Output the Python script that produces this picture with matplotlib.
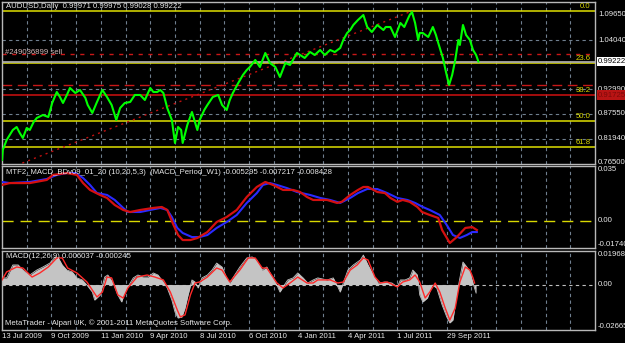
import numpy as np
import matplotlib.pyplot as plt

plt.rcParams['font.family'] = ['Liberation Sans', 'DejaVu Sans']

# ---- data (x = bar index from 13 Jul 2009) ----
price_bars = [0, 1, 6, 14, 19, 23, 27, 32, 36, 41, 45, 53, 60, 65, 71, 75, 79, 84, 88, 95,
              101, 108, 111, 117, 123, 130, 136, 142, 148, 153, 159, 166, 172, 179, 185, 192, 196, 201, 205, 209,
              214, 220, 224, 228, 232, 234, 240, 246, 253, 256, 262, 266, 273, 280, 285, 291, 295, 299, 306, 312,
              317, 321, 328, 334, 341, 347, 354, 360, 367, 373, 382, 386, 392, 399, 405, 412, 418, 425, 431, 438,
              442, 447, 451, 455, 461, 468, 473, 479, 486, 494, 497, 503, 509, 516, 521, 525, 528, 531, 535, 539,
              541, 545, 552, 558, 562, 565, 571, 575, 579, 583, 587, 591, 593, 597, 601, 606, 610, 614, 617]
price_close = [0.7717, 0.7941, 0.8165, 0.8389, 0.8456, 0.8322, 0.8210, 0.8434, 0.8389, 0.8568,
               0.8658, 0.8725, 0.8680, 0.8994, 0.9240, 0.9128, 0.8994, 0.9173, 0.9330, 0.9218,
               0.9285, 0.9106, 0.8949, 0.8770, 0.9016, 0.9285, 0.9128, 0.8949, 0.8613, 0.8882,
               0.8994, 0.9016, 0.9173, 0.9173, 0.9061, 0.9330, 0.9240, 0.9240, 0.9285, 0.9218,
               0.8882, 0.8613, 0.8098, 0.8456, 0.8389, 0.8098, 0.8501, 0.8792, 0.8389, 0.8613,
               0.8837, 0.8949, 0.9128, 0.9173, 0.8949, 0.8837, 0.9061, 0.9218, 0.9442, 0.9621,
               0.9733, 0.9800, 0.9957, 0.9800, 1.0114, 0.9890, 0.9800, 0.9576, 0.9890, 0.9845,
               1.0114, 1.0069, 1.0002, 1.0136, 1.0069, 1.0181, 1.0069, 1.0181, 1.0136, 1.0226,
               1.0405, 1.0562, 1.0629, 1.0741, 1.0853, 1.0965, 1.0696, 1.0584, 1.0741, 1.0629,
               1.0696, 1.0696, 1.0472, 1.0786, 1.0696, 1.0853, 1.0965, 1.1032, 1.0786, 1.0405,
               1.0562, 1.0562, 1.0472, 1.0696, 1.0517, 1.0338, 1.0002, 0.9688, 0.9397, 0.9621,
               0.9957, 1.0405, 1.0293, 1.0741, 1.0517, 1.0405, 1.0181, 1.0069, 0.9922]

# MTF MACD (weekly) panel
mtf_blue_bars = [0, 10, 36, 58, 71, 84, 95, 105, 114, 123, 136, 146, 157, 163, 179, 192, 205, 214, 220, 227,
                 234, 246, 256, 266, 278, 291, 304, 317, 330, 338, 347, 356, 369, 382, 399, 412, 425, 438, 451, 461,
                 473, 486, 499, 512, 525, 535, 545, 554, 567, 576, 584, 593, 602, 609, 615]
mtf_blue = [0.0248, 0.0241, 0.0248, 0.0267, 0.0293, 0.0305, 0.0305, 0.0273, 0.0229, 0.0177,
            0.0165, 0.0133, 0.0082, 0.0056, 0.0056, 0.0069, 0.0082, 0.0069, 0.0024, -0.0046,
            -0.0078, -0.0104, -0.0104, -0.0091, -0.0046, -0.0008, 0.0037, 0.0114, 0.0177, 0.0229,
            0.0241, 0.0229, 0.0209, 0.0184, 0.0165, 0.0146, 0.0133, 0.0114, 0.0146, 0.0177,
            0.0203, 0.0203, 0.0177, 0.0146, 0.0133, 0.0114, 0.0088, 0.0069, 0.0037, -0.0027,
            -0.0091, -0.0110, -0.0091, -0.0072, -0.0072]
mtf_red_bars = [0, 10, 36, 58, 66, 84, 97, 105, 114, 127, 136, 146, 157, 166, 179, 196, 207, 214, 221, 228,
                234, 244, 253, 266, 278, 291, 304, 317, 330, 341, 351, 364, 377, 386, 395, 403, 421, 434, 440, 451,
                461, 468, 474, 486, 496, 503, 512, 519, 528, 538, 544, 554, 565, 570, 580, 589, 600, 609, 615]
mtf_red = [0.0229, 0.0241, 0.0241, 0.0261, 0.0293, 0.0305, 0.0293, 0.0241, 0.0197, 0.0165,
           0.0146, 0.0101, 0.0069, 0.0056, 0.0069, 0.0082, 0.0088, 0.0069, -0.0014, -0.0091,
           -0.0123, -0.0123, -0.0110, -0.0072, -0.0008, 0.0024, 0.0069, 0.0152, 0.0216, 0.0248,
           0.0229, 0.0197, 0.0197, 0.0184, 0.0152, 0.0133, 0.0133, 0.0114, 0.0121, 0.0165,
           0.0197, 0.0216, 0.0216, 0.0184, 0.0177, 0.0146, 0.0121, 0.0133, 0.0121, 0.0088,
           0.0056, 0.0037, 0.0018, -0.0059, -0.0142, -0.0104, -0.0046, -0.0040, -0.0059]

# MACD(12,26,9) panel
macd_bars = [0, 6, 14, 21, 27, 36, 45, 53, 62, 69, 73, 78, 84, 91, 97, 104, 110, 117, 120, 127,
             133, 137, 144, 150, 155, 159, 163, 170, 176, 183, 189, 196, 202, 209, 214, 220, 224, 228, 233, 237,
             241, 246, 250, 254, 259, 266, 272, 278, 285, 291, 295, 299, 308, 317, 324, 330, 337, 343, 350, 356,
             360, 364, 370, 377, 383, 390, 396, 403, 409, 421, 429, 435, 438, 442, 448, 455, 464, 468, 474, 481,
             487, 496, 505, 512, 516, 522, 528, 532, 538, 541, 545, 551, 557, 563, 570, 576, 580, 584, 589, 593,
             597, 602, 606, 610, 614]
macd_hist = [0.0039, 0.0039, 0.0115, 0.0115, 0.0085, 0.0056, 0.0085, 0.0103, 0.0126, 0.0162,
             0.0156, 0.0115, 0.0085, 0.0074, 0.0039, 0.0027, -0.0003, -0.0044, -0.0091, -0.0061,
             0.0044, 0.0056, 0.0009, -0.0061, -0.0102, -0.0044, -0.0014, 0.0039, 0.0056, 0.0044,
             0.0044, 0.0068, 0.0056, 0.0015, -0.0020, -0.0091, -0.0161, -0.0196, -0.0190, -0.0138,
             -0.0061, 0.0027, 0.0015, -0.0020, 0.0039, 0.0056, 0.0085, 0.0126, 0.0103, 0.0039,
             0.0009, 0.0039, 0.0103, 0.0156, 0.0162, 0.0144, 0.0085, 0.0103, 0.0044, -0.0003,
             -0.0044, -0.0014, 0.0027, 0.0039, 0.0068, 0.0039, 0.0009, 0.0027, 0.0039, 0.0027,
             0.0039, -0.0014, -0.0044, 0.0009, 0.0085, 0.0115, 0.0144, 0.0173, 0.0115, 0.0056,
             0.0009, 0.0015, 0.0009, -0.0014, 0.0027, 0.0027, 0.0039, 0.0085, 0.0056, -0.0061,
             -0.0102, -0.0079, -0.0003, -0.0020, -0.0120, -0.0190, -0.0225, -0.0208, -0.0061, 0.0039,
             0.0132, 0.0103, 0.0074, 0.0009, -0.0050]
signal_bars = [0, 6, 19, 27, 39, 49, 60, 71, 78, 85, 97, 110, 123, 130, 136, 142, 150, 157, 163, 175,
               188, 198, 209, 218, 227, 231, 237, 244, 250, 256, 266, 278, 285, 295, 308, 319, 328, 337, 343, 356,
               364, 373, 383, 395, 403, 409, 425, 435, 442, 451, 460, 468, 474, 483, 490, 499, 512, 519, 528, 535,
               541, 548, 554, 561, 567, 574, 580, 587, 593, 600, 606, 610, 612]
macd_signal = [0.0027, 0.0074, 0.0103, 0.0097, 0.0044, 0.0068, 0.0103, 0.0156, 0.0156, 0.0097,
               0.0068, 0.0015, -0.0073, -0.0044, 0.0044, 0.0039, -0.0061, -0.0079, -0.0020, 0.0044,
               0.0056, 0.0044, 0.0027, -0.0044, -0.0149, -0.0190, -0.0178, -0.0061, 0.0009, 0.0015,
               0.0044, 0.0097, 0.0085, 0.0015, 0.0085, 0.0156, 0.0156, 0.0097, 0.0097, 0.0009,
               -0.0020, 0.0009, 0.0044, 0.0009, 0.0009, 0.0027, 0.0027, 0.0009, 0.0015, 0.0085,
               0.0115, 0.0156, 0.0144, 0.0044, 0.0009, 0.0015, -0.0014, 0.0015, 0.0027, 0.0056,
               0.0015, -0.0079, -0.0044, 0.0009, -0.0044, -0.0138, -0.0208, -0.0138, 0.0015, 0.0103,
               0.0085, 0.0039, 0.0009]

# fibonacci anchors (low is off-screen to the left) and levels
fib_low_bar, fib_low = -199, 0.6127
fib_high_bar, fib_high = 531, 1.1055
fib_ratios = [0.0, 23.6, 38.2, 50.0, 61.8]
fib_colors = ['#e0e000', '#e0e000', '#d01010', '#e0e000', '#e0e000']

bid_price = 0.99222
sell_order_price = 1.0091
stop_price = 0.9397

price_ticks = [1.0965, 1.0404, 0.9299, 0.8755, 0.8194, 0.7650]
date_labels = ['13 Jul 2009', '9 Oct 2009', '11 Jan 2010', '9 Apr 2010', '8 Jul 2010',
               '6 Oct 2010', '4 Jan 2011', '4 Apr 2011', '1 Jul 2011', '29 Sep 2011']
bars_per_grid = 32
n_bars = 768

header = 'AUDUSD,Daily  0.99971 0.99975 0.99028 0.99222'
mtf_title = 'MTF2_MACD_BDv09_01_20 (10,20,5,3)  (MACD_Period_W1) -0.005295 -0.007217 -0.008428'
macd_title = 'MACD(12,26,9) 0.006037 -0.000245'
copyright_txt = 'MetaTrader - Alpari UK, \u00a9 2001-2011 MetaQuotes Software Corp.'

W, H = 625, 343
FS = 5.6
TXT = '#e8e8e8'
GRID = '#6f7f8f'
FRAME = '#b8b8b8'


def box(top, bottom):
    # pixel rectangle -> figure fraction
    return [2 / W, 1 - bottom / H, 593 / W, (bottom - top) / H]


fig = plt.figure(figsize=(W / 100, H / 100), dpi=100, facecolor='black')
ax1 = fig.add_axes(box(2, 164))
ax2 = fig.add_axes(box(166, 248))
ax3 = fig.add_axes(box(251, 330))

grid_bars = list(range(bars_per_grid, n_bars, bars_per_grid))
for ax in (ax1, ax2, ax3):
    ax.set_facecolor('black')
    ax.set_xlim(0, n_bars)
    for s in ax.spines.values():
        s.set_color(FRAME)
        s.set_linewidth(1)
    ax.set_xticks(grid_bars)
    ax.tick_params(length=0, labelbottom=False, labelleft=False)
    ax.grid(axis='x', color=GRID, linestyle=(0, (3, 3)), linewidth=0.8)
    ax.set_axisbelow(True)

# ---- main price panel ----
ax1.set_ylim(0.7627, 1.1256)
ax1.set_yticks(price_ticks[1:-1])
ax1.grid(axis='y', color=GRID, linestyle=(0, (3, 3)), linewidth=0.8)
ytr = ax1.get_yaxis_transform()

fib_range = fib_high - fib_low
for r, c in zip(fib_ratios, fib_colors):
    lvl = fib_high - fib_range * r / 100
    ax1.axhline(lvl, color=c, lw=1.1, zorder=2)
    ax1.text(0.993, lvl + 0.002, '%.1f' % r, color='#d8d800', fontsize=FS,
             ha='right', va='bottom', transform=ytr)
ax1.plot([fib_low_bar, fib_high_bar], [fib_low, fib_high], color='#c01010',
         linestyle=(0, (1.5, 3)), lw=1, zorder=2)
ax1.axhline(sell_order_price, color='#c81818', linestyle=(0, (3, 4)), lw=1, zorder=2)
ax1.axhline(stop_price, color='#c81818', linestyle=(0, (7, 4)), lw=1, zorder=2)
ax1.axhline(bid_price, color='#a8a8a8', lw=1.3, zorder=2)
ax1.plot(price_bars, price_close, color='#00ff00', lw=1.5, zorder=3)

for t in price_ticks:
    ax1.text(1.005, t, '%.5f' % t, color=TXT, fontsize=FS, va='center', transform=ytr, clip_on=False)
ax1.text(1.005, bid_price, '%.5f' % bid_price, color='black', fontsize=FS, va='center', transform=ytr,
         bbox=dict(facecolor='white', edgecolor='none', pad=0.6))
fib38 = fib_high - fib_range * fib_ratios[2] / 100
ax1.text(1.005, fib38, '%.5f' % fib38, color='#7c0a0a', fontsize=FS, va='center', transform=ytr,
         bbox=dict(facecolor='#b81414', edgecolor='none', pad=1.0))

fig.text(6 / W, 1 - 7 / H, header, color=TXT, fontsize=FS, va='center')
fig.text(5 / W, 1 - 53 / H, '#249036899 sell', color='#d0b8b8', fontsize=FS, va='center')

# ---- MTF MACD panel ----
ax2.set_ylim(-0.0174, 0.035)
ax2.set_yticks([])
ax2.axhline(0, color='#d8d800', linestyle=(0, (8, 5)), lw=1, zorder=2)
ax2.plot(mtf_blue_bars, mtf_blue, color='#2a2aff', lw=1.5, zorder=3)
ax2.plot(mtf_red_bars, mtf_red, color='#d41010', lw=1.6, zorder=4)
ytr2 = ax2.get_yaxis_transform()
ax2.text(1.005, 0.035, '0.035', color=TXT, fontsize=FS, va='top', transform=ytr2)
ax2.text(1.005, 0.0, '0.00', color=TXT, fontsize=FS, va='center', transform=ytr2)
ax2.text(1.005, -0.0174, '-0.01740', color=TXT, fontsize=FS, va='bottom', transform=ytr2)
fig.text(6 / W, 1 - 173 / H, mtf_title, color=TXT, fontsize=FS, va='center')

# ---- MACD panel ----
ax3.set_ylim(-0.02666, 0.01968)
ax3.set_yticks([0])
ax3.grid(axis='y', color='#c0c0c0', linestyle=(0, (3, 3)), linewidth=0.8)
ax3.fill_between(macd_bars, 0, macd_hist, color='#c4c4c4', lw=0, zorder=2)
ax3.plot(macd_bars, macd_hist, color='#c4c4c4', lw=0.6, zorder=2)
ax3.plot(signal_bars, macd_signal, color='#ff2a2a', lw=1, zorder=3)
ytr3 = ax3.get_yaxis_transform()
ax3.text(1.005, 0.01968, '0.01968', color=TXT, fontsize=FS, va='top', transform=ytr3)
ax3.text(1.005, 0.0, '0.00', color=TXT, fontsize=FS, va='center', transform=ytr3)
ax3.text(1.005, -0.02666, '-0.02665', color=TXT, fontsize=FS, va='bottom', transform=ytr3)
fig.text(6 / W, 1 - 257 / H, macd_title, color=TXT, fontsize=FS, va='center')
fig.text(5 / W, 1 - 323 / H, copyright_txt, color=TXT, fontsize=FS, va='center')

xtr = ax3.get_xaxis_transform()
for i, lab in enumerate(date_labels):
    ax3.text(i * 2 * bars_per_grid, -0.04, lab, color=TXT, fontsize=FS, ha='left', va='top',
             transform=xtr, clip_on=False)

fig.savefig('out.png', dpi=100, facecolor='black')
